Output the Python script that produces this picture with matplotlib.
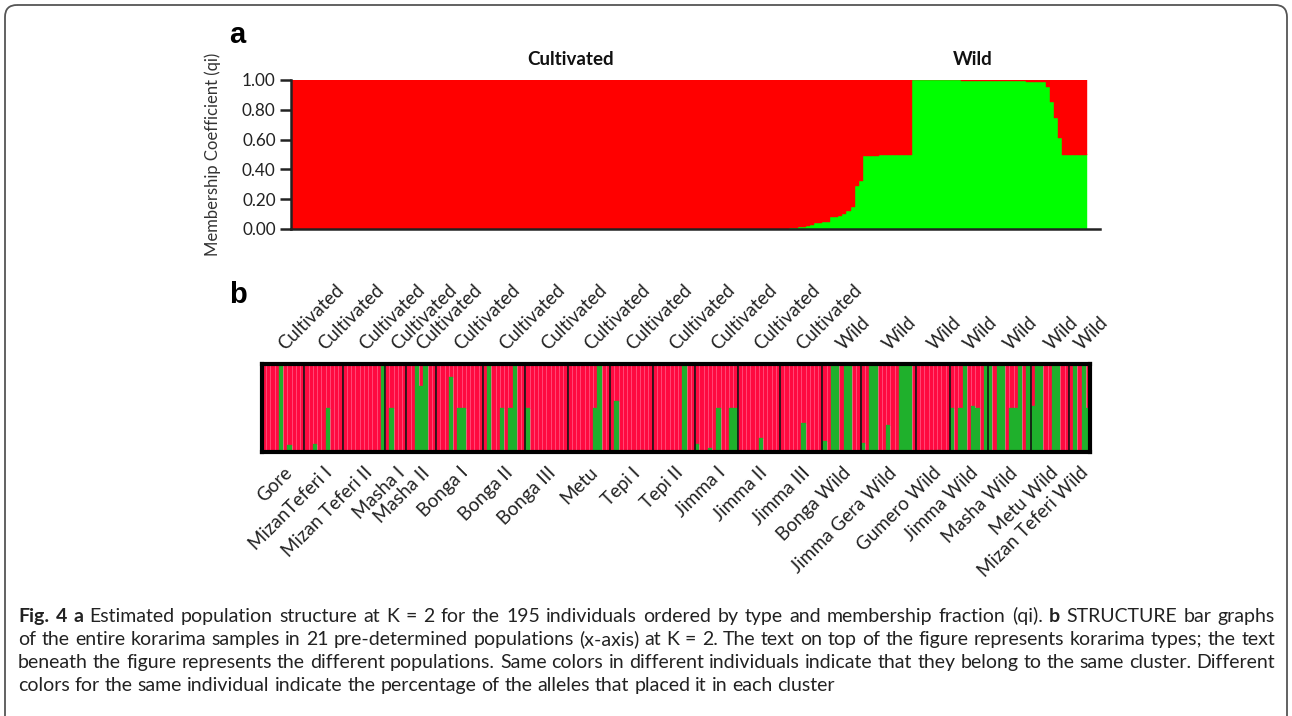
import numpy as np
import matplotlib.pyplot as plt
from matplotlib.patches import FancyBboxPatch

plt.rcParams['font.family'] = ['Lato', 'DejaVu Sans']

# ---- panel a: share of the green cluster per individual (sorted by type, then q)
a_cultivated_green = ([0.0] * 122
                      + [0.005, 0.01, 0.015, 0.016, 0.02, 0.03, 0.04, 0.04, 0.05, 0.05,
                         0.08, 0.08, 0.09, 0.10, 0.12, 0.15, 0.29, 0.32]
                      + [0.49] * 4 + [0.50] * 8)
a_wild_green = ([1.0] * 12 + [0.995] * 10 + [0.99] * 6 + [0.985] * 5
                + [0.95, 0.85, 0.745, 0.61] + [0.50] * 6)
a_yticks = [0.0, 0.2, 0.4, 0.6, 0.8, 1.0]

# ---- panel b: populations, their type and green share of each individual
pop_names = ['Gore', 'MizanTeferi I', 'Mizan Teferi II', 'Masha I', 'Masha II', 'Bonga I',
             'Bonga II', 'Bonga III', 'Metu', 'Tepi I', 'Tepi II', 'Jimma I', 'Jimma II',
             'Jimma III', 'Bonga Wild', 'Jimma Gera Wild', 'Gumero Wild', 'Jimma Wild',
             'Masha Wild', 'Metu Wild', 'Mizan Teferi Wild']
pop_types = ['Cultivated'] * 14 + ['Wild'] * 7
pop_green = [
    [0, 0, 0, 0, 1.0, 0, 0.08, 0, 0, 0],
    [0, 0, 0.09, 0, 0, 0.5, 0, 0, 0.02],
    [0, 0, 0, 0, 0, 0, 0, 0, 0, 1.0],
    [0, 0.5, 0, 0, 0],
    [0, 0, 1.0, 0.75, 1.0, 0, 0],
    [0, 0, 0, 0.85, 0, 0.5, 0.5, 0, 0, 0, 0],
    [0, 1.0, 0, 0, 0.5, 0, 0.5, 1.0, 0, 0],
    [0.5, 0, 0, 0, 0, 0, 0, 0, 0, 0],
    [0, 0, 0, 0, 0, 0, 0.5, 1.0, 0, 0],
    [0, 0.58, 0, 0, 0, 0, 0, 0.02, 0, 0],
    [0, 0, 0, 0, 0, 0, 0, 1.0, 0, 0],
    [0.09, 0, 0, 0.04, 0, 0.5, 0, 0, 0.5, 0.5],
    [0, 0, 0, 0, 0, 0.16, 0, 0, 0, 0],
    [0, 0, 0, 0, 0, 0.33, 0, 0, 0, 0],
    [0.12, 0, 1.0, 1.0, 0, 0.98, 0.98, 0, 0],
    [0.1, 0, 1.0, 1.0, 0, 0, 0.31, 0, 0, 1.0, 1.0, 1.0, 0],
    [0, 0, 0, 0, 0, 0.02, 0, 0],
    [0.5, 0, 0.5, 1.0, 0, 0.52, 0.5, 0, 1.0],
    [1.0, 0, 1.0, 1.0, 0, 0.5, 0.5, 1.0, 0, 1.0],
    [0.52, 1.0, 1.0, 0, 0, 1.0, 1.0, 0, 0],
    [0, 1.0, 0, 1.0, 0.5],
]

# caption lines; words wrapped in ** are bold
caption_lines = [
    '**Fig.** **4** **a** Estimated population structure at K = 2 for the 195 individuals ordered by type and membership fraction (qi). **b** STRUCTURE bar graphs',
    'of the entire korarima samples in 21 pre-determined populations (x-axis) at K = 2. The text on top of the figure represents korarima types; the text',
    'beneath the figure represents the different populations. Same colors in different individuals indicate that they belong to the same cluster. Different',
    'colors for the same individual indicate the percentage of the alleles that placed it in each cluster',
]

W, H = 1292, 716
fig = plt.figure(figsize=(W / 100, H / 100), dpi=100)

# background axes in pixel units for the frame and caption
bg = fig.add_axes([0, 0, 1, 1])
bg.set_xlim(0, W)
bg.set_ylim(H, 0)
bg.axis('off')
bg.add_patch(FancyBboxPatch((5, 5), W - 10, H + 40, boxstyle='round,pad=0,rounding_size=12',
                            fc='none', ec='#555555', lw=1.3))

# ---------------- panel a
axa = fig.add_axes([291 / W, 1 - 229 / H, (1100 - 291) / W, 149 / H])
green_a = np.array(a_cultivated_green + a_wild_green)
xa = np.arange(len(green_a))
axa.bar(xa, green_a, width=1.0, align='edge', color='#00FF00', ec='#00FF00', lw=0.3)
axa.bar(xa, 1 - green_a, bottom=green_a, width=1.0, align='edge', color='#FF0000', ec='#FF0000', lw=0.3)
axa.set_xlim(-0.25, 198.2)
axa.set_ylim(0, 1)
for s in ['top', 'right']:
    axa.spines[s].set_visible(False)
for s in ['left', 'bottom']:
    axa.spines[s].set_linewidth(1.8)
    axa.spines[s].set_color('#222222')
axa.set_xticks([])
axa.set_yticks(a_yticks)
axa.set_yticklabels([f'{v:.2f}' for v in a_yticks], fontsize=12.3, color='#222222')
axa.tick_params(axis='y', length=8, width=1.8, color='#222222', pad=3)
axa.set_ylabel('Membership Coefficient (qi)', fontsize=12, color='#333333', labelpad=15)
axa.text(0.345, 1.135, 'Cultivated', transform=axa.transAxes, ha='center', va='center',
         fontsize=13.5, weight='bold', color='#111111')
axa.text(0.843, 1.135, 'Wild', transform=axa.transAxes, ha='center', va='center',
         fontsize=13.5, weight='bold', color='#111111')
fig.text(229 / W, 1 - 35 / H, 'a', fontsize=21, weight='bold', family='Liberation Sans',
         ha='left', va='center')

# ---------------- panel b
axb = fig.add_axes([262 / W, 1 - 452 / H, 828 / W, 88 / H])
green_b = np.array([g for grp in pop_green for g in grp])
xb = np.arange(len(green_b))
axb.bar(xb, 1 - green_b, bottom=green_b, width=1.0, align='edge', color='#FF0A40',
        ec='#FF4F7C', lw=0.5)
axb.bar(xb, green_b, width=1.0, align='edge', color='#1FB02C', ec='#1FB02C', lw=0.2)
sizes = [len(grp) for grp in pop_green]
bounds = np.cumsum([0] + sizes)
for b in bounds[1:-1]:
    axb.axvline(b, color='#111111', lw=1.2)
axb.set_xlim(0, len(green_b))
axb.set_ylim(0, 1)
axb.set_xticks([])
axb.set_yticks([])
for s in axb.spines.values():
    s.set_linewidth(3)
    s.set_color('black')

centers = (bounds[:-1] + bounds[1:]) / 2
xtr = axb.get_xaxis_transform()
for c, name, kind in zip(centers, pop_names, pop_types):
    axb.annotate(kind, xy=(c, 1), xycoords=xtr, xytext=(4, 11), textcoords='offset pixels',
                 rotation=45, rotation_mode='anchor', ha='left', va='bottom',
                 fontsize=13.5, color='#222222')
    axb.annotate(name, xy=(c, 0), xycoords=xtr, xytext=(0, -12), textcoords='offset pixels',
                 rotation=45, rotation_mode='anchor', ha='right', va='top',
                 fontsize=13.5, color='#222222')
fig.text(229 / W, 1 - 295 / H, 'b', fontsize=21, weight='bold', family='Liberation Sans',
         ha='left', va='center')

# ---------------- caption, justified except for the last line
cap_size = 14
renderer = fig.canvas.get_renderer()
probe_two = bg.text(0, 0, 'a a', fontsize=cap_size)
probe_one = bg.text(0, 0, 'aa', fontsize=cap_size)
space_w = (probe_two.get_window_extent(renderer).width
           - probe_one.get_window_extent(renderer).width)
probe_two.remove()
probe_one.remove()
for i, line in enumerate(caption_lines):
    y = 622 + 23 * i
    words = line.split(' ')
    texts = []
    for w in words:
        bold = w.startswith('**')
        texts.append(bg.text(0, y, w.strip('*'), fontsize=cap_size, va='baseline',
                             weight='bold' if bold else 'normal', color='#222222'))
    widths = [t.get_window_extent(renderer).width for t in texts]
    if i < len(caption_lines) - 1:
        gap = (1275 - 18 - sum(widths)) / (len(words) - 1)
    else:
        gap = space_w
    x = 18
    for t, w in zip(texts, widths):
        t.set_x(x)
        x += w + gap

fig.savefig('out.png', dpi=100)
